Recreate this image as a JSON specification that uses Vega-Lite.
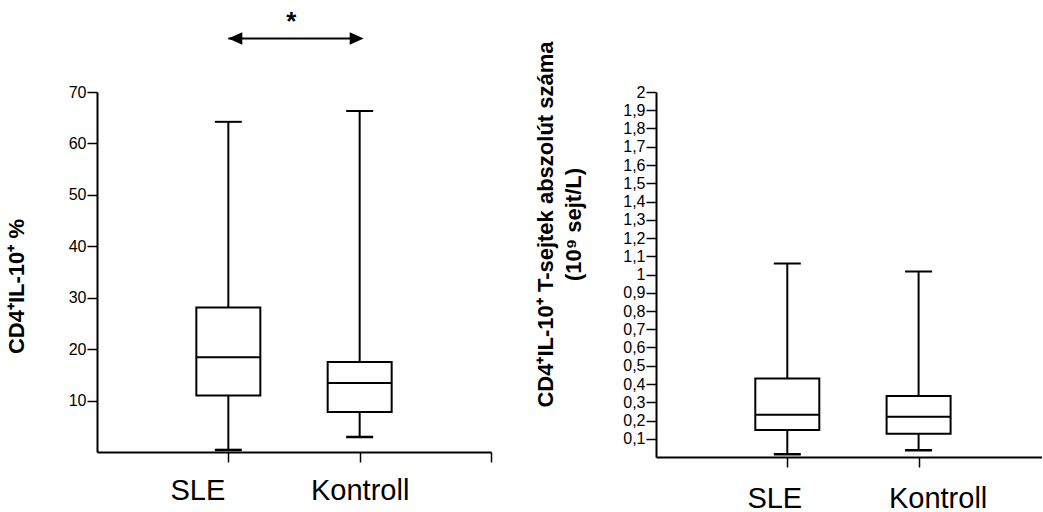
{
  "$schema": "https://vega.github.io/schema/vega-lite/v6.json",
  "background": "white",
  "padding": {"left": 5, "top": 9, "right": 0, "bottom": 0},
  "spacing": 42,
  "config": {
    "view": {"stroke": null},
    "font": "Liberation Sans",
    "axis": {
      "domainColor": "black", "domainWidth": 2,
      "tickColor": "black", "tickWidth": 1.5, "tickSize": 10,
      "labelColor": "black", "titleColor": "black", "grid": false,
      "labelFont": "Liberation Sans", "titleFont": "Liberation Sans"
    }
  },
  "datasets": {
    "pct": [
      {"group": "SLE", "min": 0.4, "q1": 11.0, "median": 18.4, "q3": 28.1, "max": 64.2},
      {"group": "Kontroll", "min": 2.9, "q1": 7.8, "median": 13.4, "q3": 17.5, "max": 66.3}
    ],
    "abs": [
      {"group": "SLE", "min": 0.015, "q1": 0.148, "median": 0.231, "q3": 0.43, "max": 1.06},
      {"group": "Kontroll", "min": 0.037, "q1": 0.128, "median": 0.221, "q3": 0.334, "max": 1.016}
    ]
  },
  "hconcat": [
    {
      "width": 394, "height": 360,
      "data": {"name": "pct"},
      "encoding": {
        "x": {"field": "group", "type": "nominal",
          "scale": {"type": "point", "domain": ["SLE", "Kontroll", "_3"], "padding": 0.5, "align": 1},
          "axis": {"title": null, "values": ["SLE", "Kontroll", "_3"], "labelAngle": 0,
            "labelExpr": "datum.value == '_3' ? '' : datum.value",
            "labelFontSize": 29, "labelPadding": 14,
            "labelOffset": {"condition": {"test": "datum.value == 'SLE'", "value": -31}, "value": 0}}}
      },
      "layer": [
        {
          "mark": {"type": "rule", "color": "black", "strokeWidth": 2},
          "encoding": {
            "y": {"field": "min", "type": "quantitative",
              "scale": {"domain": [0, 70], "nice": false},
              "axis": {"title": "CD4⁺IL-10⁺ %", "values": [10, 20, 30, 40, 50, 60, 70], "tickCount": 20,
                "labelFontSize": 16, "labelPadding": 1, "titleFontSize": 22, "titleFontWeight": "bold", "titlePadding": 40,
                "titleY": 194}},
            "y2": {"field": "max"}
          }
        },
        {
          "mark": {"type": "bar", "size": 64, "fill": "white", "stroke": "black", "strokeWidth": 2},
          "encoding": {"y": {"field": "q1", "type": "quantitative"}, "y2": {"field": "q3"}}
        },
        {
          "mark": {"type": "tick", "orient": "horizontal", "size": 64, "thickness": 2, "color": "black", "opacity": 1},
          "encoding": {"y": {"field": "median", "type": "quantitative"}}
        },
        {
          "mark": {"type": "tick", "orient": "horizontal", "size": 27, "thickness": 2, "color": "black", "opacity": 1},
          "encoding": {"y": {"field": "max", "type": "quantitative"}}
        },
        {
          "mark": {"type": "tick", "orient": "horizontal", "size": 27, "thickness": 2.5, "color": "black", "opacity": 1},
          "encoding": {"y": {"field": "min", "type": "quantitative"}}
        },
        {
          "data": {"values": [{}]},
          "mark": {"type": "rule", "color": "black", "strokeWidth": 2},
          "encoding": {"x": {"datum": "SLE", "type": "nominal"}, "x2": {"datum": "Kontroll"}, "y": {"datum": 80.4, "type": "quantitative"}}
        },
        {
          "data": {"values": [{}]},
          "mark": {"type": "point", "shape": "M 0 0 L 2 -0.9 L 2 0.9 Z", "size": 196, "filled": true, "color": "black", "opacity": 1},
          "encoding": {"x": {"datum": "SLE", "type": "nominal"}, "y": {"datum": 80.4, "type": "quantitative"}}
        },
        {
          "data": {"values": [{}]},
          "mark": {"type": "point", "shape": "M 0 0 L -2 -0.9 L -2 0.9 Z", "size": 196, "filled": true, "color": "black", "opacity": 1, "xOffset": 4},
          "encoding": {"x": {"datum": "Kontroll", "type": "nominal"}, "y": {"datum": 80.4, "type": "quantitative"}}
        },
        {
          "data": {"values": [{"label": "*"}]},
          "mark": {"type": "text", "fontSize": 26, "fontWeight": "bold", "color": "black", "align": "center", "baseline": "alphabetic", "dx": 63},
          "encoding": {"x": {"datum": "SLE", "type": "nominal"}, "y": {"datum": 82, "type": "quantitative"}, "text": {"field": "label"}}
        }
      ]
    },
    {
      "width": 386, "height": 365,
      "data": {"name": "abs"},
      "encoding": {
        "x": {"field": "group", "type": "nominal",
          "scale": {"type": "point", "domain": ["SLE", "Kontroll"], "padding": 0.97, "align": 0.5155},
          "axis": {"title": null, "labelAngle": 0, "labelFontSize": 29, "labelPadding": 17,
            "labelOffset": {"condition": {"test": "datum.value == 'SLE'", "value": -13}, "value": 19}}}
      },
      "layer": [
        {
          "mark": {"type": "rule", "color": "black", "strokeWidth": 2},
          "encoding": {
            "y": {"field": "min", "type": "quantitative",
              "scale": {"domain": [0, 2], "nice": false},
              "axis": {"title": ["CD4⁺IL-10⁺ T-sejtek abszolút száma", "(10⁹ sejt/L)"],
                "values": [0.1, 0.2, 0.3, 0.4, 0.5, 0.6, 0.7, 0.8, 0.9, 1, 1.1, 1.2, 1.3, 1.4, 1.5, 1.6, 1.7, 1.8, 1.9, 2],
                "tickCount": 40,
                "labelExpr": "replace(format(datum.value, '.1~f'), '.', ',')",
                "labelOverlap": false, "labelFlush": false,
                "labelFontSize": 16, "labelPadding": 1,
                "titleFontSize": 22, "titleFontWeight": "bold", "titlePadding": 37, "titleLineHeight": 28,
                "titleY": 132}},
            "y2": {"field": "max"}
          }
        },
        {
          "mark": {"type": "bar", "size": 64, "fill": "white", "stroke": "black", "strokeWidth": 2},
          "encoding": {"y": {"field": "q1", "type": "quantitative"}, "y2": {"field": "q3"}}
        },
        {
          "mark": {"type": "tick", "orient": "horizontal", "size": 64, "thickness": 2, "color": "black", "opacity": 1},
          "encoding": {"y": {"field": "median", "type": "quantitative"}}
        },
        {
          "mark": {"type": "tick", "orient": "horizontal", "size": 27, "thickness": 2, "color": "black", "opacity": 1},
          "encoding": {"y": {"field": "max", "type": "quantitative"}}
        },
        {
          "mark": {"type": "tick", "orient": "horizontal", "size": 27, "thickness": 2.5, "color": "black", "opacity": 1},
          "encoding": {"y": {"field": "min", "type": "quantitative"}}
        }
      ]
    }
  ]
}
